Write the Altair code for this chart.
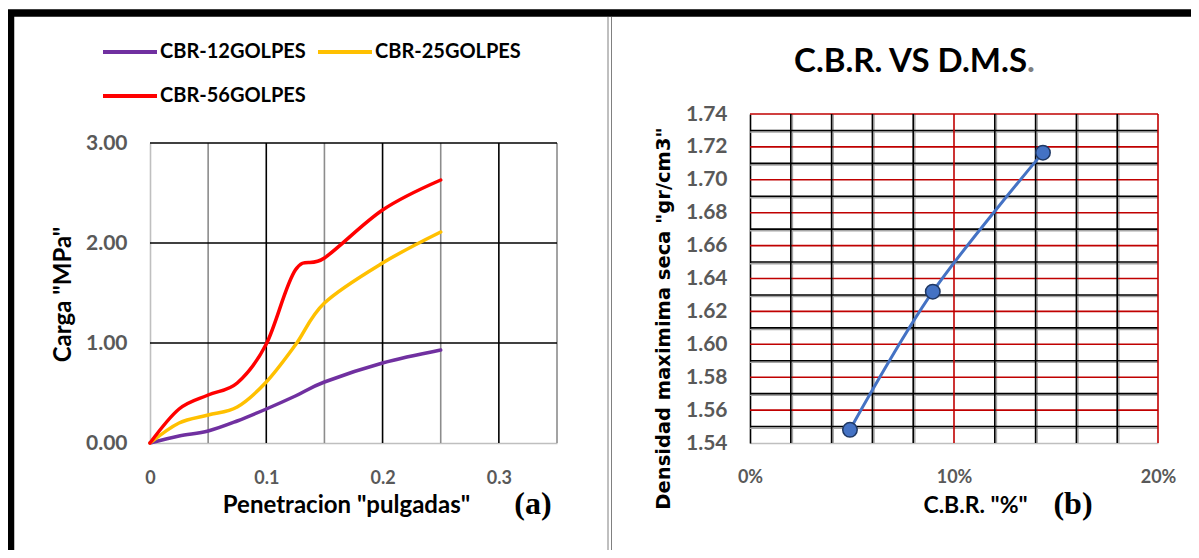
import altair as alt
import pandas as pd

# ---------------- (a) Carga vs Penetracion ----------------
penetracion = [0, 0.025, 0.05, 0.075, 0.1, 0.125, 0.15, 0.2, 0.25]
carga_12 = [0, 0.07, 0.12, 0.22, 0.34, 0.47, 0.61, 0.80, 0.93]
carga_25 = [0, 0.20, 0.28, 0.36, 0.61, 0.98, 1.40, 1.80, 2.11]
carga_56 = [0, 0.34, 0.48, 0.60, 0.99, 1.73, 1.85, 2.33, 2.63]
series_names = ["CBR-12GOLPES", "CBR-25GOLPES", "CBR-56GOLPES"]
series_colors = ["#7030A0", "#FFC000", "#FF0000"]

x_ticks_a = [0, 0.1, 0.2, 0.3]
y_ticks_a = [0, 1, 2, 3]
grid_major_a = [0.1, 0.2, 0.3]
grid_minor_a = [0.05, 0.15, 0.25, 0.35]
grid_h_a = [1, 2, 3]

# ---------------- (b) C.B.R. vs D.M.S. ----------------
cbr = [0.049, 0.0896, 0.1436]
dms = [1.548, 1.632, 1.7165]
x_ticks_b = [0, 0.1, 0.2]
y_ticks_b = [1.54, 1.56, 1.58, 1.60, 1.62, 1.64, 1.66, 1.68, 1.70, 1.72, 1.74]
grid_v_black_b = [0.02, 0.04, 0.06, 0.08, 0.12, 0.14, 0.16, 0.18]
grid_v_red_b = [0.1, 0.2]
grid_h_red_b = [1.56, 1.58, 1.60, 1.62, 1.64, 1.66, 1.68, 1.70, 1.72, 1.74]
grid_h_black_b = [1.55, 1.57, 1.59, 1.61, 1.63, 1.65, 1.67, 1.69, 1.71, 1.73]

FONT = "Lato"
LABEL_GRAY = "#595959"


# scales (pixel ranges place the two panels inside one canvas)
def XA():
    return alt.Scale(domain=[0, 0.35], range=[0, 407], nice=False, zero=False)


def YA():
    return alt.Scale(domain=[0, 3], range=[329, 29], nice=False, zero=False)


def XB():
    return alt.Scale(domain=[0, 0.2], range=[600, 1008], nice=False, zero=False)


def YB():
    return alt.Scale(domain=[1.54, 1.74], range=[329, 0], nice=False, zero=False)


# ---------- panel (a) ----------
rows = []
for name, vals in zip(series_names, [carga_12, carga_25, carga_56]):
    for p, c in zip(penetracion, vals):
        rows.append({"pen": p, "carga": c, "serie": name})
df_a = pd.DataFrame(rows)


def vrules(values, color, xs, ys, y0, y1, width=1.6, dx=0):
    return alt.Chart(pd.DataFrame({"x": values})).mark_rule(
        color=color, strokeWidth=width, xOffset=dx
    ).encode(
        x=alt.X("x:Q", scale=xs(), axis=None),
        y=alt.Y(datum=y0, scale=ys(), axis=None),
        y2=alt.Y2(datum=y1),
    )


def hrules(values, color, xs, ys, x0, x1, width=1.6, dy=0):
    return alt.Chart(pd.DataFrame({"y": values})).mark_rule(
        color=color, strokeWidth=width, yOffset=dy
    ).encode(
        y=alt.Y("y:Q", scale=ys(), axis=None),
        x=alt.X(datum=x0, scale=xs(), axis=None),
        x2=alt.X2(datum=x1),
    )


vminor_a = vrules(grid_minor_a, "#8C8C8C", XA, YA, 0, 3)
vmajor_a = vrules(grid_major_a, "#000000", XA, YA, 0, 3)
hgrid_a = hrules(grid_h_a, "#000000", XA, YA, 0, 0.35)

axis_xa = alt.Axis(
    orient="bottom", values=x_ticks_a, format="~g", grid=False, ticks=False, tickSize=0,
    domainColor="#BFBFBF", domainWidth=1.6, labelFlush=False,
    labelFont=FONT, labelFontWeight="bold", labelFontSize=18, labelColor=LABEL_GRAY,
    labelPadding=26,
    title='Penetracion "pulgadas"', titleFont=FONT, titleFontWeight="bold",
    titleFontSize=24, titleColor="#000000", titleX=196, titleY=62,
    titleBaseline="middle", titleAlign="center",
)
axis_ya = alt.Axis(
    orient="left", values=y_ticks_a, format=".2f", grid=False, ticks=False, tickSize=0,
    domainColor="#BFBFBF", domainWidth=1.6, labelFlush=False,
    labelFont=FONT, labelFontWeight="bold", labelFontSize=21, labelColor=LABEL_GRAY,
    labelPadding=23,
    title='Carga "MPa"', titleFont=FONT, titleFontWeight="bold", titleFontSize=24,
    titleColor="#000000", titleX=-87, titleY=180, titleBaseline="middle",
    titleAlign="center", titleAngle=270,
)

lines_a = alt.Chart(df_a).mark_line(
    interpolate="cardinal", strokeWidth=3.5, strokeCap="round"
).encode(
    x=alt.X("pen:Q", scale=XA(), axis=axis_xa),
    y=alt.Y("carga:Q", scale=YA(), axis=axis_ya),
    color=alt.Color(
        "serie:N",
        scale=alt.Scale(domain=series_names, range=series_colors),
        legend=alt.Legend(
            orient="none", legendX=-49, legendY=-91, columns=2, direction="horizontal",
            title=None,
            symbolType="stroke", symbolSize=2916, symbolStrokeWidth=4,
            labelFont=FONT, labelFontWeight="bold", labelFontSize=20,
            labelColor="#000000", labelOffset=1, labelLimit=400,
            columnPadding=4, rowPadding=5, padding=0,
        ),
    ),
    order=alt.Order("pen:Q"),
)

# ---------- panel (b) ----------
df_b = pd.DataFrame({"cbr": cbr, "dms": dms})

hshadow_b = hrules(grid_h_black_b, "#A6A6A6", XB, YB, 0, 0.2, width=1.5, dy=1.6)
vshadow_b = vrules(grid_v_black_b, "#A6A6A6", XB, YB, 1.54, 1.74, width=1.5, dx=1.6)
hblack_b = hrules(grid_h_black_b, "#000000", XB, YB, 0, 0.2)
hred_b = hrules(grid_h_red_b, "#C00000", XB, YB, 0, 0.2)
vblack_b = vrules(grid_v_black_b, "#000000", XB, YB, 1.54, 1.74)
vred_b = vrules(grid_v_red_b, "#C00000", XB, YB, 1.54, 1.74)

axis_xb = alt.Axis(
    orient="bottom", values=x_ticks_b, format=".0%", grid=False, ticks=False, tickSize=0,
    domainColor="#BFBFBF", domainWidth=1.6, labelFlush=False,
    labelFont=FONT, labelFontWeight="bold", labelFontSize=18, labelColor=LABEL_GRAY,
    labelPadding=25,
    title='C.B.R. "%"', titleFont=FONT, titleFontWeight="bold", titleFontSize=23,
    titleColor="#000000", titleX=825, titleY=62, titleBaseline="middle",
    titleAlign="center",
)
axis_yb = alt.Axis(
    orient="left", offset=-600, values=y_ticks_b, format=".2f", grid=False,
    ticks=False, tickSize=0, domainColor="#000000", domainWidth=1.6, labelFlush=False,
    labelFont=FONT, labelFontWeight="bold", labelFontSize=21, labelColor=LABEL_GRAY,
    labelPadding=23,
    title='Densidad maximima seca "gr/cm3"', titleFont="DejaVu Sans",
    titleFontWeight="bold", titleFontSize=19.5, titleColor="#000000",
    titleX=-87, titleY=204, titleBaseline="middle", titleAlign="center",
    titleAngle=270,
)

line_b = alt.Chart(df_b).mark_line(
    interpolate="cardinal", strokeWidth=3, color="#4472C4"
).encode(
    x=alt.X("cbr:Q", scale=XB(), axis=axis_xb),
    y=alt.Y("dms:Q", scale=YB(), axis=axis_yb),
)
points_b = alt.Chart(df_b).mark_point(
    filled=True, size=210, fill="#4472C4", stroke="#1F3864", strokeWidth=1.5,
    opacity=1,
).encode(
    x=alt.X("cbr:Q", scale=XB(), axis=None),
    y=alt.Y("dms:Q", scale=YB(), axis=None),
)

# ---------- frame, panel titles and labels ----------
one = pd.DataFrame({"k": [0]})
frame_top = alt.Chart(one).mark_rule(color="#000000", strokeWidth=7.5).encode(
    x=alt.value(-142), x2=alt.value(1041), y=alt.value(-101)
)
frame_left = alt.Chart(one).mark_rule(color="#000000", strokeWidth=7.5).encode(
    x=alt.value(-139.5), y=alt.value(-104), y2=alt.value(436)
)
sep1 = alt.Chart(one).mark_rule(color="#808080", strokeWidth=1).encode(
    x=alt.value(458), y=alt.value(-97), y2=alt.value(436)
)
sep2 = alt.Chart(one).mark_rule(color="#808080", strokeWidth=1).encode(
    x=alt.value(461.5), y=alt.value(-97), y2=alt.value(436)
)
title_main = alt.Chart(one).mark_text(
    font=FONT, fontWeight="bold", fontSize=33, color="#000000",
    align="right", baseline="alphabetic",
).encode(x=alt.value(877), y=alt.value(-42), text=alt.value("C.B.R. VS D.M.S"))
title_dot = alt.Chart(one).mark_text(
    font=FONT, fontWeight="bold", fontSize=33, color="#7F7F7F",
    align="left", baseline="alphabetic",
).encode(x=alt.value(877), y=alt.value(-42), text=alt.value("."))
tag_a = alt.Chart(one).mark_text(
    font="Liberation Serif", fontWeight="bold", fontSize=32, color="#000000",
    align="center", baseline="middle",
).encode(x=alt.value(383), y=alt.value(390), text=alt.value("(a)"))
tag_b = alt.Chart(one).mark_text(
    font="Liberation Serif", fontWeight="bold", fontSize=32, color="#000000",
    align="center", baseline="middle",
).encode(x=alt.value(923), y=alt.value(390), text=alt.value("(b)"))

chart = alt.layer(
    vminor_a, vmajor_a, hgrid_a, lines_a,
    hshadow_b, vshadow_b, hblack_b, hred_b, vblack_b, vred_b, line_b, points_b,
    frame_top, frame_left, sep1, sep2, title_main, title_dot, tag_a, tag_b,
).resolve_scale(
    x="independent", y="independent"
).properties(
    width=1008,
    height=329,
    autosize=alt.AutoSizeParams(type="none"),
    padding={"left": 142, "top": 106, "right": 33, "bottom": 107},
    background="#FFFFFF",
).configure_view(strokeWidth=0)

chart.save("out.html", embed_options={"renderer": "svg", "actions": False})
